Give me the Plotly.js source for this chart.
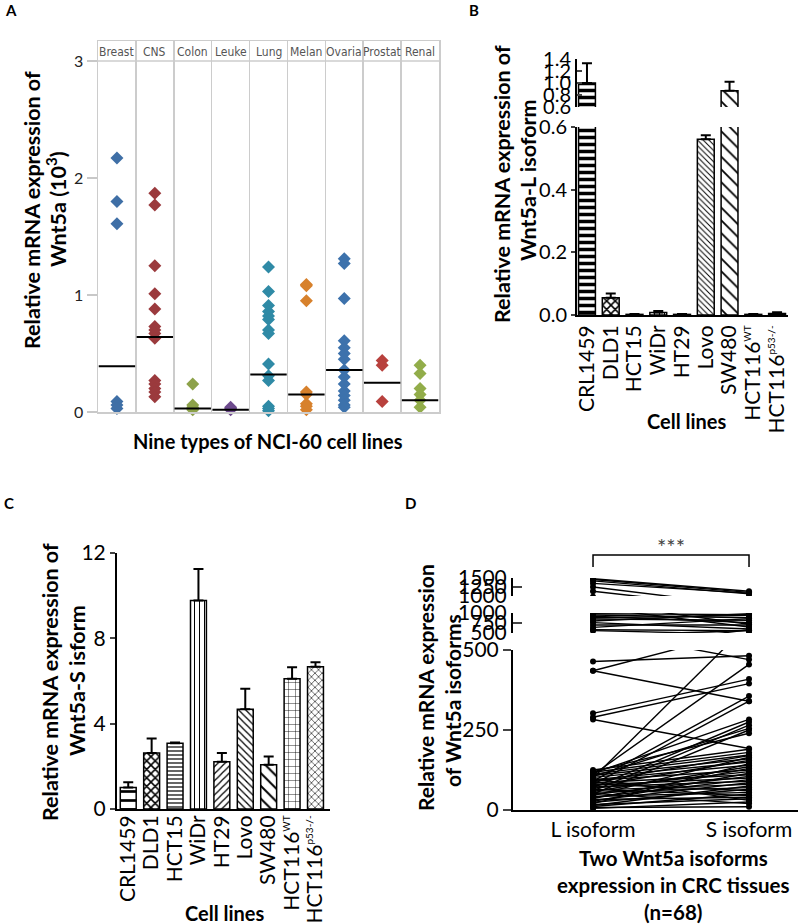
<!DOCTYPE html>
<html><head><meta charset="utf-8">
<script src="https://cdn.plot.ly/plotly-3.0.1.min.js"></script>
<style>html,body{margin:0;padding:0;background:#fff}#chart{width:800px;height:924px}</style>
</head><body><div id="chart"></div>
<script>
// ---------- Panel A data (x 10^3) ----------
const groups = ['Breast','CNS','Colon','Leuke','Lung','Melan','Ovaria','Prostat','Renal'];
const breast  = [2.17,1.80,1.61,0.09,0.06,0.03];
const cns     = [1.87,1.77,1.25,1.01,0.88,0.73,0.70,0.67,0.63,0.27,0.24,0.20,0.17,0.13];
const colon   = [0.24,0.06,0.04,0.03,0.02];
const leuke   = [0.04,0.03,0.02];
const lung    = [1.24,1.03,0.91,0.86,0.82,0.79,0.70,0.67,0.41,0.31,0.27,0.05,0.03,0.01];
const melan   = [1.09,1.08,0.95,0.17,0.15,0.07,0.05,0.02];
const ovaria  = [1.31,1.27,0.97,0.61,0.55,0.50,0.45,0.36,0.30,0.24,0.18,0.14,0.10,0.06,0.04];
const prostat = [0.44,0.40,0.09];
const renal   = [0.40,0.33,0.20,0.15,0.10,0.04];
const medians = [0.39,0.64,0.03,0.02,0.32,0.15,0.36,0.25,0.10];
const aTicks  = [0,1,2,3];

// ---------- Panels B & C data ----------
const cellLines = ['CRL1459','DLD1','HCT15','WiDr','HT29','Lovo','SW480','HCT116WT','HCT116p53-/-'];
const SUP = t => '<sup><span style="font-size:10px">' + t + '</span></sup>';
const cellLabels = ['CRL1459','DLD1','HCT15','WiDr','HT29','Lovo','SW480','HCT116' + SUP('WT'),'HCT116' + SUP('p53-/-')];
const isoL    = [1.00,0.055,0.002,0.008,0.002,0.561,0.87,0.002,0.005];
const isoLErr = [0.33,0.014,0.001,0.005,0.001,0.013,0.15,0.001,0.004];
const isoS    = [1.01,2.62,3.08,9.77,2.21,4.67,2.07,6.10,6.67];
const isoSErr = [0.24,0.68,0.04,1.48,0.41,0.97,0.39,0.54,0.21];
const bTicksLow = [0,0.2,0.4,0.6];
const bTicksHigh = [0.6,0.8,1.0,1.2,1.4];
const cTicks = [0,4,8,12];

// ---------- Panel D data (68 paired tissues) ----------
const tissueL = [1480,1460,1420,1350,1250,1130,
  980,950,920,880,850,800,760,700,640,580,560,
  464,435,435,302,290,283,
  100,110,90,80,115,70,60,105,50,120,
  125,118,112,108,102,98,95,92,88,85,82,78,75,72,68,65,62,58,55,52,48,45,42,40,36,33,30,27,24,20,17,14,11,8,5];
const tissueS = [1130,1100,1060,1080,720,650,
  960,880,760,940,820,980,600,700,860,560,470,
  482,340,562,409,395,192,
  582,455,356,340,283,275,265,255,250,240,
  190,180,172,160,150,30,140,125,170,110,60,100,155,90,120,45,80,135,70,20,105,165,55,95,130,40,85,115,65,145,35,75,50,10,25];
const dTicks1 = [0,250,500];
const dTicks2 = [500,750,1000];
const dTicks3 = [1000,1250,1500];
const dCats = ['L isoform','S isoform'];

// ---------- helpers ----------
const W = 800, H = 924;
const px = x => x / W;
const py = y => 1 - y / H;
const FONT = 'Lato, "Open Sans", sans-serif';
const NARROW = '"Liberation Sans Narrow", "DejaVu Sans Condensed", "Arial Narrow", sans-serif';

const aColors = ['#3f6fa6','#9b3a3d','#8da24a','#6e4b8e','#2f8aa6','#d7812c','#3d72ac','#b8413d','#92ad4a'];
const aSeries = [breast,cns,colon,leuke,lung,melan,ovaria,prostat,renal];

const traces = [];
aSeries.forEach((vals,i) => {
  traces.push({type:'scatter', mode:'markers', x: vals.map(() => i), y: vals,
    xaxis:'x', yaxis:'y', cliponaxis:false, hoverinfo:'skip',
    marker:{symbol:'diamond', size:10, color:aColors[i]}});
});
traces.push({type:'scatter', mode:'markers', x: groups.map((g,i) => i), y: medians,
  xaxis:'x', yaxis:'y', cliponaxis:false, hoverinfo:'skip',
  marker:{symbol:'line-ew', size:26, color:'#000', line:{width:2, color:'#000'}}});

const patB = {shape:['-','x','-','|','/','\\','\\','+','x'], size:[7,6,4,5,5,4,9,6,5],
  solidity:[0.5,0.45,0.3,0.2,0.22,0.25,0.2,0.14,0.22], fgcolor:'#000', bgcolor:'#fff', fillmode:'replace'};
const patC = {shape:['-','x','-','|','/','\\','\\','+','x'], size:[9,6,4,5,5,5,9,7,5],
  solidity:[0.3,0.45,0.3,0.2,0.25,0.25,0.22,0.12,0.22], fgcolor:'#000', bgcolor:'#fff', fillmode:'replace'};
const zeros = cellLines.map(() => 0);

['y2','y3'].forEach(ya => {
  traces.push({type:'bar', x: cellLines, y: isoL, xaxis:'x2', yaxis:ya, width:0.71, hoverinfo:'skip',
    marker:{color:'#fff', line:{color:'#000', width:1.5}, pattern:patB},
    error_y:{type:'data', array:isoLErr, arrayminus:zeros, symmetric:false, color:'#000', thickness:2, width:5}});
});
traces.push({type:'bar', x: cellLines, y: isoS, xaxis:'x3', yaxis:'y4', width:0.68, hoverinfo:'skip',
  marker:{color:'#fff', line:{color:'#000', width:1.5}, pattern:patC},
  error_y:{type:'data', array:isoSErr, arrayminus:zeros, symmetric:false, color:'#000', thickness:2, width:5}});

const dx = [], dy = [];
tissueL.forEach((l,i) => { dx.push(dCats[0], dCats[1], null); dy.push(l, tissueS[i], null); });
['y5','y6','y7'].forEach(ya => {
  traces.push({type:'scatter', mode:'lines+markers', x: dx, y: dy, xaxis:'x4', yaxis:ya,
    connectgaps:false, hoverinfo:'skip',
    line:{color:'#000', width:1.4}, marker:{color:'#000', size:6}});
});

const tickF = {family:FONT, size:21, color:'#000'};
const tickB = {family:FONT, size:20, color:'#000'};
const blackAxis = {showline:true, linecolor:'#000', linewidth:2, zeroline:false, showgrid:false, fixedrange:true};

const layout = {
  width:W, height:H, margin:{l:0,r:0,t:0,b:0}, showlegend:false,
  paper_bgcolor:'#fff', plot_bgcolor:'rgba(0,0,0,0)', barmode:'overlay',
  font:{family:FONT, color:'#000'},
  // Panel A
  xaxis:{domain:[px(98),px(439)], range:[-0.5,8.5], anchor:'y',
    tickmode:'array', tickvals:groups.slice(1).map((g,i) => i+0.5), showticklabels:false, ticks:'',
    showgrid:true, gridcolor:'#cccccc', gridwidth:1.5, zeroline:false,
    showline:true, mirror:true, linecolor:'#cccccc', linewidth:1.5, fixedrange:true},
  yaxis:{domain:[py(412),py(41)], range:[0,3.171], anchor:'x',
    tickmode:'array', tickvals:aTicks, ticks:'outside', ticklen:10, tickwidth:1.5, tickcolor:'#c8c8c8',
    tickfont:{family:FONT, size:16, color:'#222'}, showgrid:false, zeroline:false,
    showline:true, mirror:true, linecolor:'#cccccc', linewidth:1.5, fixedrange:true},
  // Panel B
  xaxis2:Object.assign({domain:[px(577),px(788)], type:'category', categoryarray:cellLines, range:[-0.42,8.46],
    anchor:'y2', tickmode:'array', tickvals:cellLines, ticktext:cellLabels, ticks:'', tickangle:-90, tickfont:tickF}, blackAxis),
  yaxis2:Object.assign({domain:[py(315),py(127)], range:[0,0.6], anchor:'x2',
    tickmode:'array', tickvals:bTicksLow, ticktext:bTicksLow.map(v => v.toFixed(1)),
    ticks:'outside', ticklen:4, tickwidth:2, tickfont:tickB}, blackAxis),
  yaxis3:Object.assign({domain:[py(107),py(59)], range:[0.6,1.4], anchor:'x2',
    tickmode:'array', tickvals:bTicksHigh, ticktext:bTicksHigh.map(v => v.toFixed(1)),
    ticks:'inside', ticklen:5, tickwidth:2, tickfont:tickB}, blackAxis),
  // Panel C
  xaxis3:Object.assign({domain:[px(117),px(330)], type:'category', categoryarray:cellLines, range:[-0.48,8.62],
    anchor:'y4', tickmode:'array', tickvals:cellLines, ticktext:cellLabels, ticks:'', tickangle:-90,
    ticklabelstandoff:-4, tickfont:tickF}, blackAxis),
  yaxis4:Object.assign({domain:[py(809),py(553)], range:[0,12], anchor:'x3',
    tickmode:'array', tickvals:cTicks, ticks:'outside', ticklen:5, tickwidth:2, tickfont:tickF}, blackAxis),
  // Panel D
  xaxis4:Object.assign({domain:[px(513),px(798)], type:'category', categoryarray:dCats, range:[-0.513,1.314],
    anchor:'y5', tickmode:'array', tickvals:dCats, ticks:'', tickfont:tickF}, blackAxis),
  yaxis5:Object.assign({domain:[py(810),py(650)], range:[0,500], anchor:'x4',
    tickmode:'array', tickvals:dTicks1, ticks:'outside', ticklen:8, tickwidth:2, tickfont:tickF}, blackAxis),
  yaxis6:Object.assign({domain:[py(633),py(613)], range:[500,1000], anchor:'x4',
    tickmode:'array', tickvals:dTicks2, ticks:'inside', ticklen:9, tickwidth:2, tickfont:tickF}, blackAxis),
  yaxis7:Object.assign({domain:[py(596),py(578)], range:[1000,1500], anchor:'x4',
    tickmode:'array', tickvals:dTicks3, ticks:'inside', ticklen:9, tickwidth:2, tickfont:tickF}, blackAxis),
  shapes:[
    {type:'line', xref:'x domain', yref:'y', x0:0, x1:1, y0:3, y1:3, line:{color:'#cccccc', width:1.5}},
    {type:'path', xref:'x4', yref:'paper',
      path:`M 0,${py(567)} L 0,${py(555)} L 1,${py(555)} L 1,${py(567)}`, line:{color:'#000', width:1.5}}
  ],
  annotations:[]
};

function ann(text, x, y, size, opts) {
  layout.annotations.push(Object.assign({text, x:px(x), y:py(y), xref:'paper', yref:'paper',
    showarrow:false, xanchor:'center', yanchor:'middle',
    font:{family:FONT, size, color:'#000'}}, opts || {}));
}
const B = t => '<b>' + t + '</b>';
// panel letters
ann(B('A'), 3, 10, 15, {xanchor:'left'});
ann(B('B'), 467, 10, 15, {xanchor:'left'});
ann(B('C'), 2, 503, 15, {xanchor:'left'});
ann(B('D'), 403, 503, 15, {xanchor:'left'});
// Panel A titles
ann(B('Relative mRNA expression of'), 32, 210, 21.5, {textangle:-90});
ann(B('Wnt5a (10<sup>3</sup>)'), 57, 209, 21.5, {textangle:-90});
ann(B('Nine types of NCI-60 cell lines'), 268, 441, 20);
groups.forEach((g,i) => {
  layout.annotations.push({text:g, x:i, y:py(52), xref:'x', yref:'paper', showarrow:false,
    xanchor:'center', yanchor:'middle', font:{family:NARROW, size:12, color:'#555'}});
});
// Panel B titles
ann(B('Relative mRNA expression of'), 502, 184, 21.5, {textangle:-90});
ann(B('Wnt5a-L isoform'), 528, 180, 21.5, {textangle:-90});
ann(B('Cell lines'), 687, 421, 20);
// Panel C titles
ann(B('Relative mRNA expression of'), 50, 682, 21.5, {textangle:-90});
ann(B('Wnt5a-S isform'), 77, 681, 21.5, {textangle:-90});
ann(B('Cell lines'), 225, 913, 20);
// Panel D titles
ann(B('Relative mRNA expression'), 425, 688, 21, {textangle:-90});
ann(B('of Wnt5a isoforms'), 452, 700, 21, {textangle:-90});
ann(B('Two Wnt5a isoforms'), 673, 858, 20.5);
ann(B('expression in CRC tissues'), 673, 885, 20.5);
ann(B('(n=68)'), 673, 912, 20.5);
ann('***', 671, 546, 22, {font:{family:FONT, size:22, color:'#444'}});

Plotly.newPlot('chart', traces, layout, {displayModeBar:false, staticPlot:true});
</script>
</body></html>
